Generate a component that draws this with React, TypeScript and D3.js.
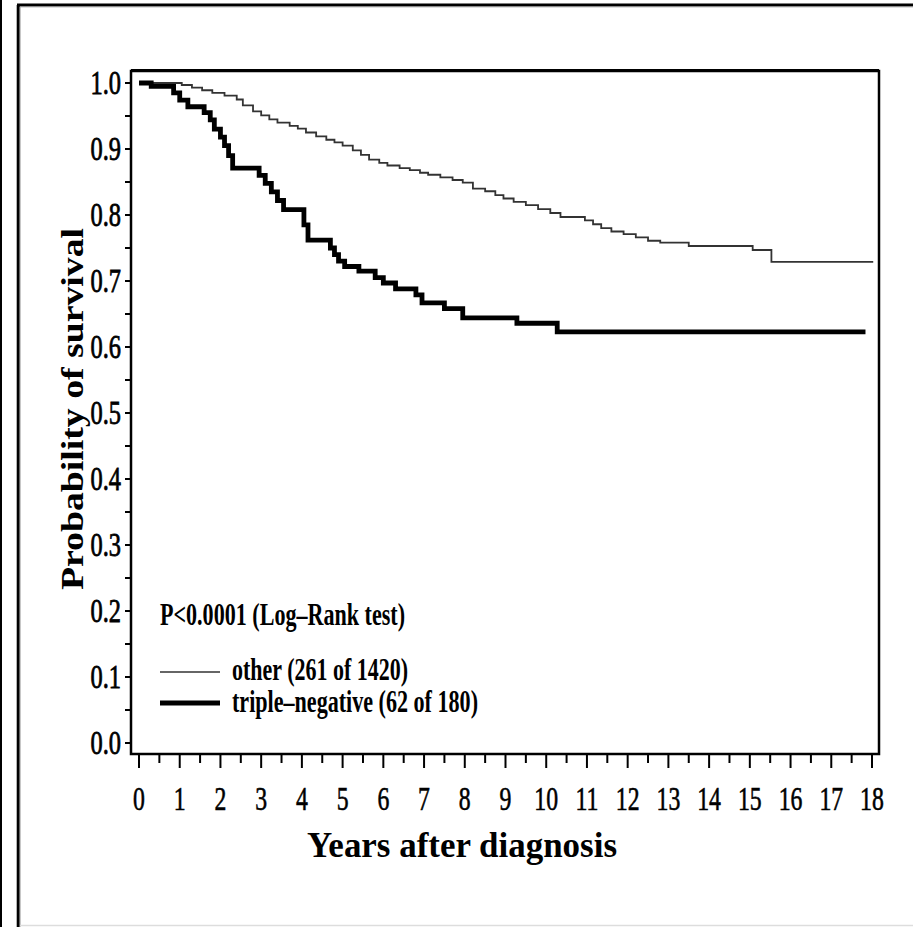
import React from "react";
import * as d3 from "d3";

// Kaplan–Meier step points: time (years) at which the survival estimate changes
const otherTimes = [0, 1.05, 1.3, 1.55, 1.8, 2.1, 2.4, 2.55, 2.8, 3.0, 3.2, 3.4, 3.7, 3.9, 4.1, 4.35, 4.6, 4.8, 5.0, 5.25, 5.45, 5.65, 5.9, 6.1, 6.4, 6.65, 6.9, 7.1, 7.4, 7.7, 7.95, 8.2, 8.5, 8.75, 8.95, 9.2, 9.5, 9.8, 10.1, 10.35, 10.95, 11.15, 11.35, 11.6, 11.9, 12.2, 12.5, 12.8, 13.5, 15.07, 15.53, 18.03];
const otherSurv = [1.0, 0.997, 0.993, 0.989, 0.985, 0.981, 0.975, 0.966, 0.957, 0.951, 0.945, 0.94, 0.935, 0.931, 0.925, 0.919, 0.914, 0.91, 0.905, 0.898, 0.891, 0.884, 0.879, 0.875, 0.871, 0.868, 0.864, 0.861, 0.857, 0.853, 0.849, 0.84, 0.836, 0.83, 0.825, 0.82, 0.815, 0.809, 0.803, 0.797, 0.792, 0.786, 0.78, 0.775, 0.771, 0.766, 0.761, 0.758, 0.753, 0.747, 0.729, 0.729];

const tnTimes = [0, 0.3, 0.85, 1.0, 1.2, 1.6, 1.75, 1.85, 2.0, 2.1, 2.2, 2.3, 2.95, 3.1, 3.25, 3.4, 3.55, 4.05, 4.15, 4.7, 4.8, 4.9, 5.05, 5.4, 5.8, 6.0, 6.3, 6.8, 6.95, 7.5, 7.95, 9.28, 10.27, 17.84];
const tnSurv = [1.0, 0.995, 0.985, 0.974, 0.964, 0.955, 0.944, 0.93, 0.918, 0.905, 0.89, 0.871, 0.86, 0.848, 0.835, 0.822, 0.808, 0.785, 0.762, 0.75, 0.74, 0.73, 0.722, 0.715, 0.705, 0.697, 0.688, 0.679, 0.667, 0.658, 0.644, 0.636, 0.623, 0.623];

const yTickLabels = ["0.0", "0.1", "0.2", "0.3", "0.4", "0.5", "0.6", "0.7", "0.8", "0.9", "1.0"];
const xTickValues = d3.range(0, 19);

const pValueText = "P<0.0001 (Log\u2013Rank test)";
const legendLabels = ["other (261 of 1420)", "triple\u2013negative (62 of 180)"];
const xTitle = "Years after diagnosis";
const yTitle = "Probability of survival";

const FONT = "'Liberation Serif', 'Times New Roman', serif";

export default function App() {
  const W = 913;
  const H = 927;
  const frame = { left: 131, right: 879, top: 71, bottom: 754 };

  const x = d3.scaleLinear().domain([0, 18]).range([139, 872]);
  const y = d3.scaleLinear().domain([0, 1]).range([743, 83]);

  const line = d3
    .line<[number, number]>()
    .x((d) => x(d[0]))
    .y((d) => y(d[1]))
    .curve(d3.curveStepAfter);

  const otherPts: [number, number][] = otherTimes.map((t, i) => [t, otherSurv[i]]);
  const tnPts: [number, number][] = tnTimes.map((t, i) => [t, tnSurv[i]]);

  const yMinor = d3.range(0, 21).map((i) => i * 0.05);
  const xMinor = d3.range(0, 37).map((i) => i * 0.5);

  return (
    <svg
      width={W}
      height={H}
      viewBox={`0 0 ${W} ${H}`}
      style={{ position: "absolute", left: 0, top: 0, background: "#fff" }}
      fontFamily={FONT}
    >
      <rect x={0} y={0} width={W} height={H} fill="#fff" />
      {/* outer page borders */}
      <line x1={1} y1={0} x2={1} y2={H} stroke="#000" strokeWidth={2} />
      <line x1={18.2} y1={5} x2={18.2} y2={H} stroke="#000" strokeWidth={3} />
      <line x1={17} y1={5} x2={W} y2={5} stroke="#000" strokeWidth={3.2} />
      <line x1={20} y1={6.9} x2={W} y2={6.9} stroke="#999" strokeWidth={0.8} />
      <line x1={20.2} y1={7} x2={20.2} y2={H} stroke="#999" strokeWidth={0.8} />
      <line x1={20} y1={925.5} x2={W} y2={925.5} stroke="#ddd" strokeWidth={1.5} />

      {/* plot frame */}
      <rect
        x={frame.left}
        y={frame.top}
        width={frame.right - frame.left}
        height={frame.bottom - frame.top}
        fill="none"
        stroke="#000"
        strokeWidth={2.5}
      />
      <line x1={frame.left} y1={frame.top - 0.5} x2={frame.right} y2={frame.top - 0.5} stroke="#000" strokeWidth={3} />

      {/* y ticks */}
      {yMinor.map((v, i) => (
        <line key={`yt${i}`} x1={frame.left - 6} x2={frame.left} y1={y(v)} y2={y(v)} stroke="#000" strokeWidth={2} />
      ))}
      {yTickLabels.map((lab, i) => (
        <text
          key={`yl${i}`}
          transform={`translate(121, ${y(i / 10) + 11}) scale(0.74, 1)`}
          textAnchor="end"
          fontSize={33}
          fill="#000"
          stroke="#000"
          strokeWidth={0.8}
        >
          {lab}
        </text>
      ))}

      {/* x ticks */}
      {xMinor.map((v, i) => (
        <line
          key={`xt${i}`}
          x1={x(v)}
          x2={x(v)}
          y1={frame.bottom + 1}
          y2={frame.bottom + (i % 2 === 0 ? 14 : 9)}
          stroke="#000"
          strokeWidth={2}
        />
      ))}
      {xTickValues.map((v) => (
        <text
          key={`xl${v}`}
          transform={`translate(${x(v)}, 810) scale(0.72, 1)`}
          textAnchor="middle"
          fontSize={33}
          fill="#000"
          stroke="#000"
          strokeWidth={0.6}
        >
          {v}
        </text>
      ))}

      {/* axis titles */}
      <text x={307} y={857} fontSize={35} fontWeight="bold" textLength={310} lengthAdjust="spacingAndGlyphs" fill="#000">
        {xTitle}
      </text>
      <text
        transform="translate(83, 590) rotate(-90)"
        fontSize={31}
        fontWeight="bold"
        textLength={362}
        lengthAdjust="spacingAndGlyphs"
        fill="#000"
      >
        {yTitle}
      </text>

      {/* survival curves */}
      <path d={line(otherPts) ?? ""} fill="none" stroke="#333" strokeWidth={1.8} />
      <path d={line(tnPts) ?? ""} fill="none" stroke="#000" strokeWidth={4.8} />

      {/* legend */}
      <text x={160} y={625} fontSize={31} fontWeight="bold" textLength={245} lengthAdjust="spacingAndGlyphs" fill="#000">
        {pValueText}
      </text>
      <line x1={160} x2={220} y1={672} y2={672} stroke="#333" strokeWidth={1.5} />
      <text x={232} y={680} fontSize={31} fontWeight="bold" textLength={176} lengthAdjust="spacingAndGlyphs" fill="#000">
        {legendLabels[0]}
      </text>
      <line x1={160} x2={220} y1={703} y2={703} stroke="#000" strokeWidth={4.8} />
      <text x={232} y={712} fontSize={31} fontWeight="bold" textLength={246} lengthAdjust="spacingAndGlyphs" fill="#000">
        {legendLabels[1]}
      </text>
    </svg>
  );
}
